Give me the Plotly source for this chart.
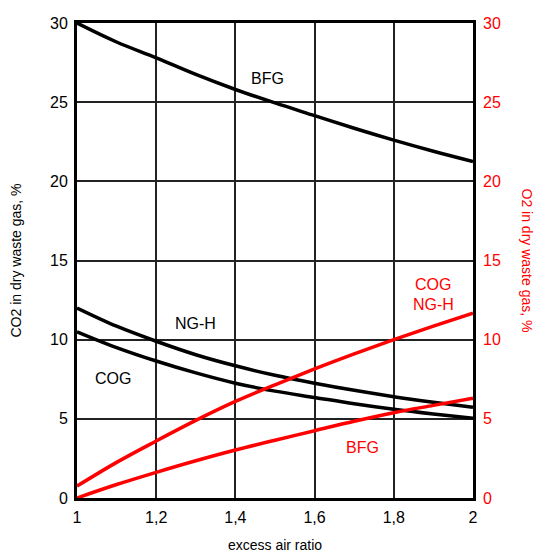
import plotly.graph_objects as go

# excess air ratio
lam = [1.0, 1.1, 1.2, 1.3, 1.4, 1.5, 1.6, 1.7, 1.8, 1.9, 2.0]

# CO2 in dry waste gas, %
co2_bfg = [30.0, 28.8, 27.8, 26.75, 25.8, 24.95, 24.15, 23.35, 22.6, 21.9, 21.25]
co2_ngh = [12.0, 10.85, 9.9, 9.05, 8.35, 7.75, 7.25, 6.8, 6.4, 6.05, 5.73]
co2_cog = [10.5, 9.5, 8.65, 7.9, 7.25, 6.75, 6.35, 5.95, 5.6, 5.3, 5.03]

# O2 in dry waste gas, %
o2_cog_ngh = [0.75, 2.25, 3.6, 4.9, 6.1, 7.15, 8.15, 9.1, 10.0, 10.85, 11.67]
o2_bfg = [0.0, 0.85, 1.62, 2.35, 3.03, 3.65, 4.25, 4.85, 5.39, 5.85, 6.3]

xticks = [1.0, 1.2, 1.4, 1.6, 1.8, 2.0]
yticks = [0, 5, 10, 15, 20, 25, 30]

RED = "#ff0000"
FONT = "Liberation Sans, Arial, sans-serif"

fig = go.Figure()
for ys in (co2_bfg, co2_ngh, co2_cog):
    fig.add_trace(go.Scatter(x=lam, y=ys, mode="lines", line=dict(color="black", width=3.5, shape="spline"),
                             showlegend=False, hoverinfo="skip"))
for ys in (o2_cog_ngh, o2_bfg):
    fig.add_trace(go.Scatter(x=lam, y=ys, mode="lines", line=dict(color=RED, width=3.5, shape="spline"),
                             yaxis="y2", showlegend=False, hoverinfo="skip"))

labels = [
    (1.48, 26.5, "BFG", "black"),
    (1.30, 11.0, "NG-H", "black"),
    (1.09, 7.55, "COG", "black"),
    (1.90, 13.5, "COG", RED),
    (1.90, 12.2, "NG-H", RED),
    (1.72, 3.2, "BFG", RED),
]
anns = [dict(x=x, y=y, xref="x", yref="y", text=t, showarrow=False,
             font=dict(family=FONT, size=16, color=c)) for x, y, t, c in labels]
anns.append(dict(x=1.0, xref="paper", xshift=64, y=0.5, yref="paper", text="O2 in dry waste gas, %",
                 textangle=90, showarrow=False, font=dict(family=FONT, size=14, color=RED)))

fig.update_layout(
    width=539, height=553,
    margin=dict(l=77, r=66, t=23, b=55, autoexpand=False),
    paper_bgcolor="white", plot_bgcolor="white",
    separators=",.",
    font=dict(family=FONT, size=16, color="black"),
    xaxis=dict(range=[1, 2], tickvals=xticks, showgrid=True, gridcolor="#222222", gridwidth=1.5,
               showline=True, linecolor="black", linewidth=3, mirror=True, zeroline=False,
               ticks="", tickfont=dict(size=16), ticklabelstandoff=3, automargin=False,
               title=dict(text="excess air ratio", font=dict(size=14), standoff=16)),
    yaxis=dict(range=[0, 30], tickvals=yticks, showgrid=True, gridcolor="#222222", gridwidth=1.5,
               showline=True, linecolor="black", linewidth=3, mirror=True, zeroline=False,
               ticks="", tickfont=dict(size=16), ticklabelstandoff=3, automargin=False,
               title=dict(text="CO2 in dry waste gas, %", font=dict(size=14), standoff=26)),
    yaxis2=dict(range=[0, 30], tickvals=yticks, overlaying="y", side="right", showgrid=False,
                zeroline=False, ticks="", tickfont=dict(size=16, color=RED), showline=False,
                ticklabelstandoff=9, automargin=False),
    annotations=anns,
)

fig.write_html("out.html")
